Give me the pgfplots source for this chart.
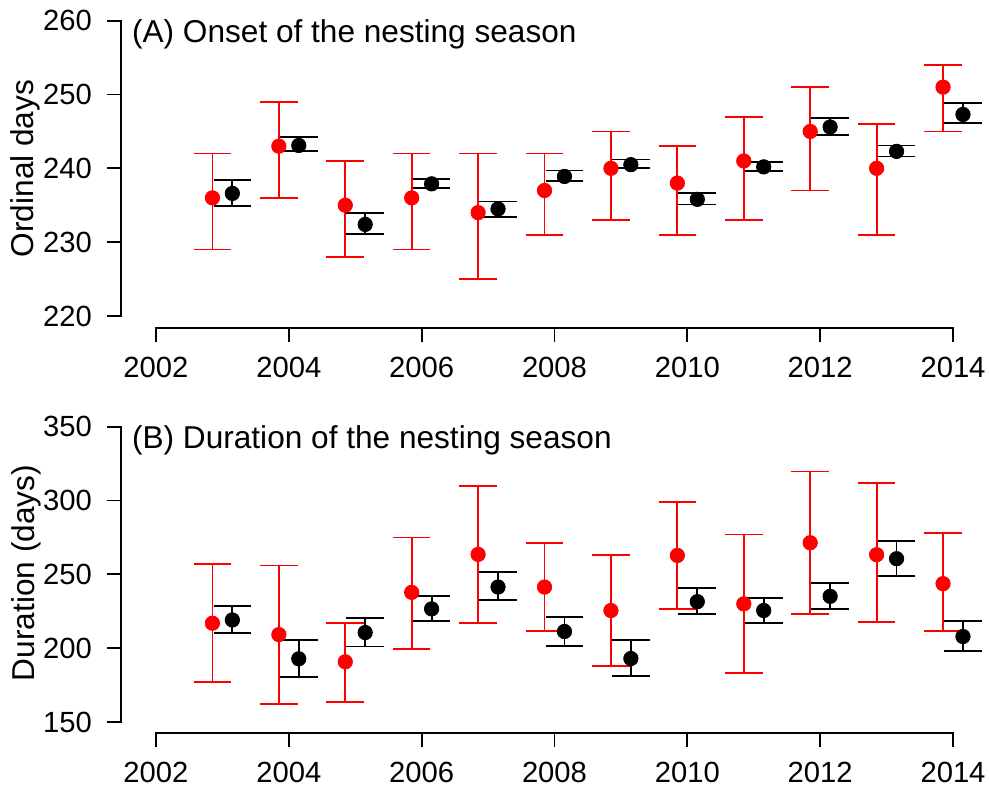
\documentclass[border=0pt]{standalone}
\usepackage{fontspec}
\setmainfont{Liberation Sans}
\usepackage{pgfplots}
\usepackage{pgfplotstable}
\pgfplotsset{compat=1.18}

% onset of nesting season: estimate and interval (red = observed, black = model)
\pgfplotstableread{
year y lo hi
2003 236 229 242
2004 243 236 249
2005 235 228 241
2006 236 229 242
2007 234 225 242
2008 237 231 242
2009 240 233 245
2010 238 231 243
2011 241 233 247
2012 245 237 251
2013 240 231 246
2014 251 245 254
}\onsetred
\pgfplotstableread{
year y lo hi
2003 236.6 234.9 238.4
2004 243.1 242.4 244.2
2005 232.4 231.1 233.9
2006 237.9 237.3 238.6
2007 234.5 233.45 235.5
2008 238.9 238.3 239.7
2009 240.5 240.0 241.2
2010 235.8 235.1 236.7
2011 240.2 239.6 240.9
2012 245.6 244.5 246.8
2013 242.3 241.6 243.1
2014 247.3 246.1 248.8
}\onsetblack
% duration of nesting season
\pgfplotstableread{
year y lo hi
2003 216.9 177 256.8
2004 209.2 162.4 256
2005 190.8 163.7 217.3
2006 237.8 199.3 275
2007 263.5 217.3 309.9
2008 241.4 211.9 271.2
2009 225.5 187.8 263.1
2010 262.8 226.8 298.9
2011 230 183.1 277
2012 271.4 223.2 319.6
2013 263.3 217.8 311.7
2014 243.7 211.9 277.9
}\durred
\pgfplotstableread{
year y lo hi
2003 219.1 210.4 228.4
2004 192.8 180.4 205.6
2005 210.6 201.1 220.5
2006 226.6 218.2 235.4
2007 241.4 232.7 251.4
2008 211.3 201.6 220.9
2009 193 181.1 205.6
2010 231.5 223.2 240.5
2011 225.5 217.3 234.2
2012 235.1 226.8 244.4
2013 260.6 248.9 272.7
2014 207.9 198.2 218.2
}\durblack

\pgfplotsset{
  nestaxis/.style={
    scale only axis, width=433.75pt,
    xmin=2001.469, xmax=2014.53,
    axis x line*=bottom, axis y line*=left,
    axis line style={draw=none,-},
    tick align=outside, major tick length=6.67pt,
    tick style={black, line width=0.9pt},
    xtick={2002,2004,...,2014},
    tick label style={font=\fontsize{14.6}{17}\selectfont},
    xticklabel style={inner sep=0pt},
    yticklabel style={inner sep=0pt},
    xticklabel shift=7.5pt, yticklabel shift=7.6pt,
    /pgf/number format/.cd, 1000 sep={}, assume math mode=true,
    /pgfplots/.cd,
    clip=false,
  },
  errpts/.style={
    only marks, mark=*, mark size=3.6pt, color=#1,
    mark options={draw=none, fill=#1},
    error bars/.cd, y dir=both, y explicit,
    error bar style={line width=0.9pt, #1},
    error mark options={rotate=90, mark size=9.4pt, line width=0.9pt, #1},
  },
}

\begin{document}
\begin{tikzpicture}
\useasboundingbox (0,0) rectangle (494.5pt,393.5pt);

% panel A
\begin{axis}[nestaxis, at={(60.35pt,229.35pt)}, anchor=south west,
  height=159.95pt, ymin=218.33, ymax=261.67, ytick={220,230,...,260}]
  \addplot+[errpts=red] table[x expr=\thisrow{year}-0.15, y=y,
    y error plus expr=\thisrow{hi}-\thisrow{y},
    y error minus expr=\thisrow{y}-\thisrow{lo}] {\onsetred};
  \addplot+[errpts=black] table[x expr=\thisrow{year}+0.15, y=y,
    y error plus expr=\thisrow{hi}-\thisrow{y},
    y error minus expr=\thisrow{y}-\thisrow{lo}] {\onsetblack};
  \draw[line width=0.9pt, line cap=rect] (axis cs:2002,218.33) -- (axis cs:2014,218.33);
  \draw[line width=0.9pt, line cap=rect] (axis cs:2001.469,220) -- (axis cs:2001.469,260);
\end{axis}

% panel B
\begin{axis}[nestaxis, at={(60.35pt,26.85pt)}, anchor=south west,
  height=158.95pt, ymin=142.35, ymax=357.65, ytick={150,200,...,350}]
  \addplot+[errpts=red] table[x expr=\thisrow{year}-0.15, y=y,
    y error plus expr=\thisrow{hi}-\thisrow{y},
    y error minus expr=\thisrow{y}-\thisrow{lo}] {\durred};
  \addplot+[errpts=black] table[x expr=\thisrow{year}+0.15, y=y,
    y error plus expr=\thisrow{hi}-\thisrow{y},
    y error minus expr=\thisrow{y}-\thisrow{lo}] {\durblack};
  \draw[line width=0.9pt, line cap=rect] (axis cs:2002,142.35) -- (axis cs:2014,142.35);
  \draw[line width=0.9pt, line cap=rect] (axis cs:2001.469,150) -- (axis cs:2001.469,350);
\end{axis}

\begin{scope}[font=\fontsize{15.8}{19}\selectfont]
  \node[anchor=base west, inner sep=0pt] at (65.85pt,372.35pt) {(A) Onset of the nesting season};
  \node[anchor=base west, inner sep=0pt] at (65.85pt,169.35pt) {(B) Duration of the nesting season};
  \node[rotate=90, anchor=base, inner sep=0pt] at (16.65pt,309.25pt) {Ordinal days};
  \node[rotate=90, anchor=base, inner sep=0pt] at (17.15pt,107pt) {Duration (days)};
\end{scope}
\end{tikzpicture}
\end{document}
